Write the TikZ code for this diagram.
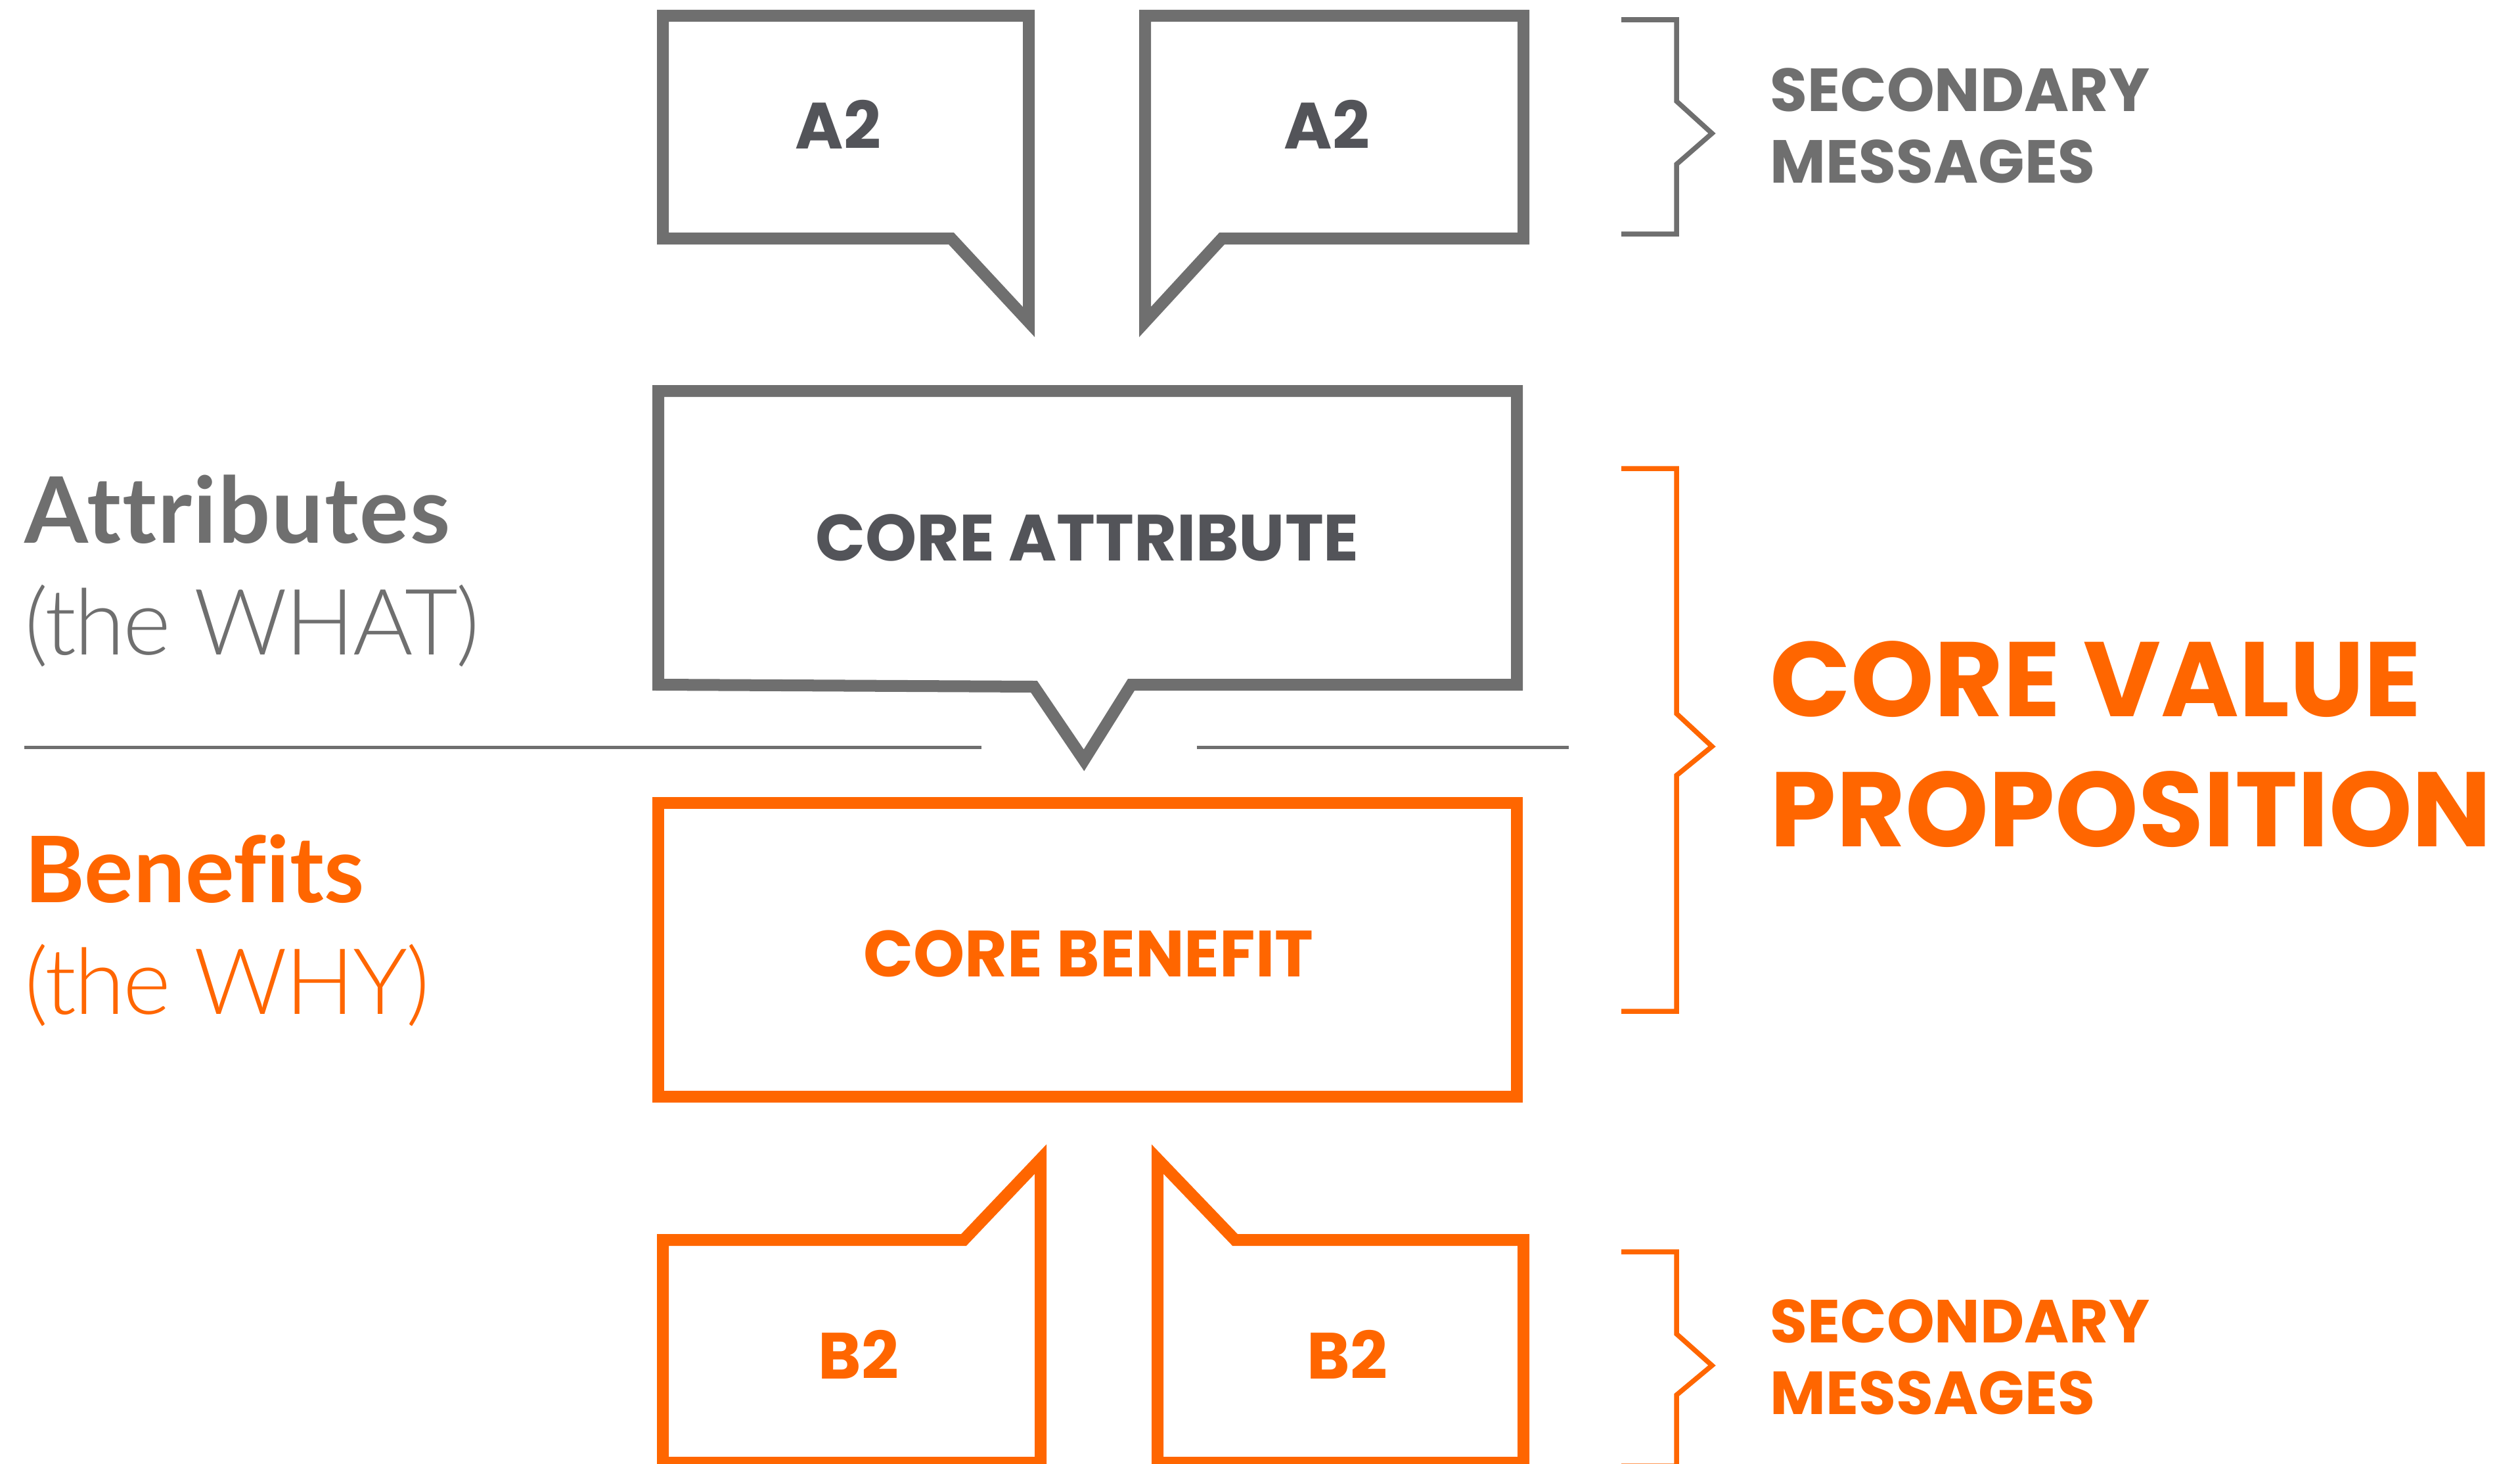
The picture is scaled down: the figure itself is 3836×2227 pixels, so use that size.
\documentclass[tikz,border=0pt]{standalone}
\usepackage{fontspec}
\newfontfamily\capsfont{Poppins}
\newfontfamily\labelfont{Lato}[Ligatures=NoCommon]
\newfontfamily\lightfont{Lato Light}[Ligatures=NoCommon, LetterSpace=-2]

\definecolor{linegray}{HTML}{6F6F6F}
\definecolor{inkgray}{HTML}{535459}
\definecolor{brand}{HTML}{FF6600}

\tikzset{
  bubble/.style={line width=0.18cm, line join=miter, miter limit=20},
  bracketline/.style={line width=0.075cm, line join=miter, miter limit=20},
  divider/.style={line width=0.05cm, draw=linegray},
  boxtext/.style={inner sep=0pt, anchor=base, font=\capsfont\bfseries\fontsize{28.3}{34}\selectfont},
  sidetext/.style={inner sep=0pt, anchor=base west, font=\capsfont\bfseries\fontsize{26.3}{32}\selectfont},
  bigtext/.style={inner sep=0pt, anchor=base west, text=brand, font=\capsfont\bfseries\fontsize{45.9}{56}\selectfont},
  boldlabel/.style={inner sep=0pt, anchor=base west, font=\labelfont\bfseries\fontsize{39.7}{48}\selectfont},
  lightlabel/.style={inner sep=0pt, anchor=base west, font=\lightfont\fontsize{39.7}{48}\selectfont},
}

\begin{document}
\begin{tikzpicture}[x=0.01cm, y=-0.01cm]
\useasboundingbox (0,0) rectangle (3836,2227);

% secondary attribute bubbles (tails pointing down)
\draw[bubble, draw=linegray] (1009,24) -- (1566,24) -- (1566,490) -- (1448,363) -- (1009,363) -- cycle;
\draw[bubble, draw=linegray] (1743,24) -- (2319,24) -- (2319,363) -- (1860,363) -- (1743,490) -- cycle;
\node[boxtext, text=inkgray] (a2left) at (1276,226) {A2};
\node[boxtext, text=inkgray] (a2right) at (2020,226) {A2};

% core attribute bubble
\draw[bubble, draw=linegray] (1002,595) -- (2309,595) -- (2309,1042) -- (1722,1042)
  -- (1650,1157) -- (1574,1045) -- (1002,1042) -- cycle;
\node[boxtext, text=inkgray] (coreattr) at (1655,853) {CORE ATTRIBUTE};

% dividing rules between attributes and benefits
\coordinate (ruleAstart) at (37,1137);
\coordinate (ruleAend) at (1494,1137);
\coordinate (ruleBstart) at (1822,1137);
\coordinate (ruleBend) at (2388,1137);
\draw[divider] (ruleAstart) -- (ruleAend);
\draw[divider] (ruleBstart) -- (ruleBend);

% core benefit box
\draw[bubble, draw=brand] (1002,1222) rectangle (2309,1669);
\node[boxtext, text=brand] (corebenefit) at (1657,1486) {CORE BENEFIT};

% secondary benefit bubbles (tails pointing up)
\draw[bubble, draw=brand] (1009,1887) -- (1467,1887) -- (1584,1764) -- (1584,2226) -- (1009,2226) -- cycle;
\draw[bubble, draw=brand] (1762,1764) -- (1880,1887) -- (2319,1887) -- (2319,2226) -- (1762,2226) -- cycle;
\node[boxtext, text=brand] (b2left) at (1307,2098) {B2};
\node[boxtext, text=brand] (b2right) at (2051,2098) {B2};

% left-hand labels
\node[boldlabel, text=linegray] (attr) at (37,826) {\addfontfeature{LetterSpace=1.5}Attributes};
\node[lightlabel, text=linegray] (what) at (37,996) {(the WHAT)};
\node[boldlabel, text=brand] (ben) at (37,1373) {Benefits};
\node[lightlabel, text=brand] (why) at (37,1543) {(the WHY)};

% right-hand brackets
\draw[bracketline, draw=linegray] (2468,30) -- (2552,30) -- (2552,154) -- (2606,203)
  -- (2552,250) -- (2552,356) -- (2468,356);
\draw[bracketline, draw=brand] (2468,713) -- (2552,713) -- (2552,1086) -- (2606,1136)
  -- (2552,1180) -- (2552,1539) -- (2468,1539);
\draw[bracketline, draw=brand] (2468,1905) -- (2552,1905) -- (2552,2030) -- (2606,2078)
  -- (2552,2123) -- (2552,2231) -- (2468,2231);

% right-hand captions
\node[sidetext, text=linegray] (secA1) at (2694,169) {SECONDARY};
\node[sidetext, text=linegray] (secA2) at (2694,278) {MESSAGES};
\node[bigtext] (cvp1) at (2694,1090) {CORE VALUE};
\node[bigtext] (cvp2) at (2694,1288) {PROPOSITION};
\node[sidetext, text=brand] (secB1) at (2694,2043) {SECONDARY};
\node[sidetext, text=brand] (secB2) at (2694,2152) {MESSAGES};
\end{tikzpicture}
\end{document}
